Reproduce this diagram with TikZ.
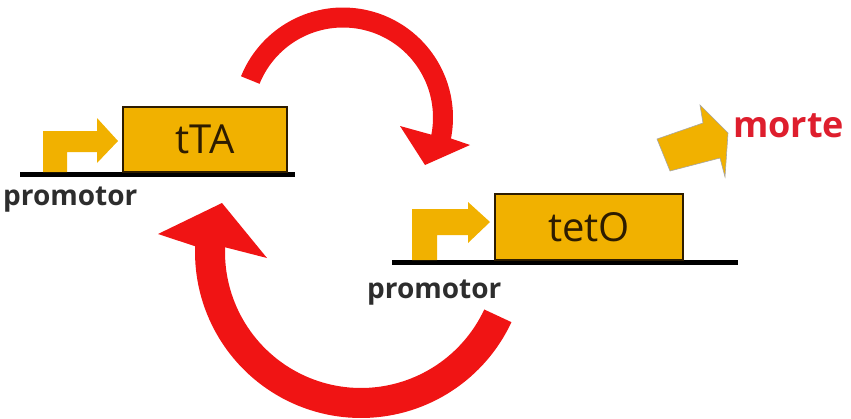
\documentclass[tikz,border=0pt]{standalone}
\usepackage{fontspec}
\setmainfont{Open Sans}
\definecolor{gold}{RGB}{241,177,0}
\definecolor{goldedge}{RGB}{45,28,0}
\definecolor{loopred}{RGB}{240,20,20}
\definecolor{deathred}{RGB}{222,30,45}
\definecolor{labelgray}{RGB}{45,45,45}
\begin{document}
\begin{tikzpicture}[x=1pt,y=-1pt,
  genebox/.style={draw=goldedge,line width=2pt,fill=gold,inner sep=0pt,
    font=\fontsize{40}{40}\selectfont,text=goldedge},
  dnaline/.style={line width=5pt,black},
  promarrow/.style={fill=gold},
  promlabel/.style={anchor=base west,inner sep=0pt,text=labelgray,
    font=\fontsize{28}{28}\selectfont\bfseries},
  loop/.style={fill=loopred}]
\useasboundingbox (0,0) rectangle (851,418);
\clip (0,0) rectangle (851,418);

% ---- first gene: promoter + tTA ----
\coordinate (dnaAl) at (20,174);
\coordinate (dnaAr) at (295,174);
\draw[dnaline] (dnaAl) -- (dnaAr);
\fill[promarrow] (43,172) -- (43,131) -- (97,131) -- (97,118) -- (118,141)
  -- (97,163) -- (97,152) -- (67,152) -- (67,172) -- cycle;
\node[genebox,minimum width=164pt,minimum height=65pt] (tta) at (205,139.5) {tTA};
\node[promlabel] (promA) at (3,205) {promotor};

% ---- second gene: promoter + tetO ----
\coordinate (dnaBl) at (392,262);
\coordinate (dnaBr) at (738,262);
\draw[dnaline] (dnaBl) -- (dnaBr);
\fill[promarrow] (412,260) -- (412,209) -- (468,209) -- (468,202) -- (490,222)
  -- (468,243) -- (468,235) -- (437,235) -- (437,260) -- cycle;
\node[genebox,minimum width=188pt,minimum height=66pt] (teto) at (589,227) {tetO};
\node[promlabel] (promB) at (367,298) {promotor};

% ---- outcome ----
\filldraw[fill=gold,draw=gray!70,line width=0.6pt]
  (657,139) -- (703,123) -- (700,105) -- (728,133) -- (725,177)
  -- (720,158) -- (670,171) -- cycle;
\node[anchor=base west,inner sep=0pt,text=deathred,
  font=\fontsize{36}{36}\selectfont\bfseries] (morte) at (733,137) {morte};

% ---- feedback loop: tTA acts on tetO ----
\coordinate (ctop) at (343,117.5);
\fill[loop] plot[domain=-158:11,samples=80] ({343+110*cos(\x)},{117.5+110*sin(\x)})
  -- (470,145) -- (425,165) -- (400,126)
  -- plot[domain=11:-158,samples=80] ({343+90*cos(\x)},{117.5+90*sin(\x)}) -- cycle;

% ---- feedback loop: back to the first promoter ----
\coordinate (cbot) at (361,252);
\fill[loop] plot[domain=25:182,samples=80] ({361+166*cos(\x)},{252+166*sin(\x)})
  -- (158,234) -- (222,203) -- (267,258)
  -- plot[domain=182:25,samples=80] ({361+136*cos(\x)},{252+136*sin(\x)}) -- cycle;
\end{tikzpicture}
\end{document}
